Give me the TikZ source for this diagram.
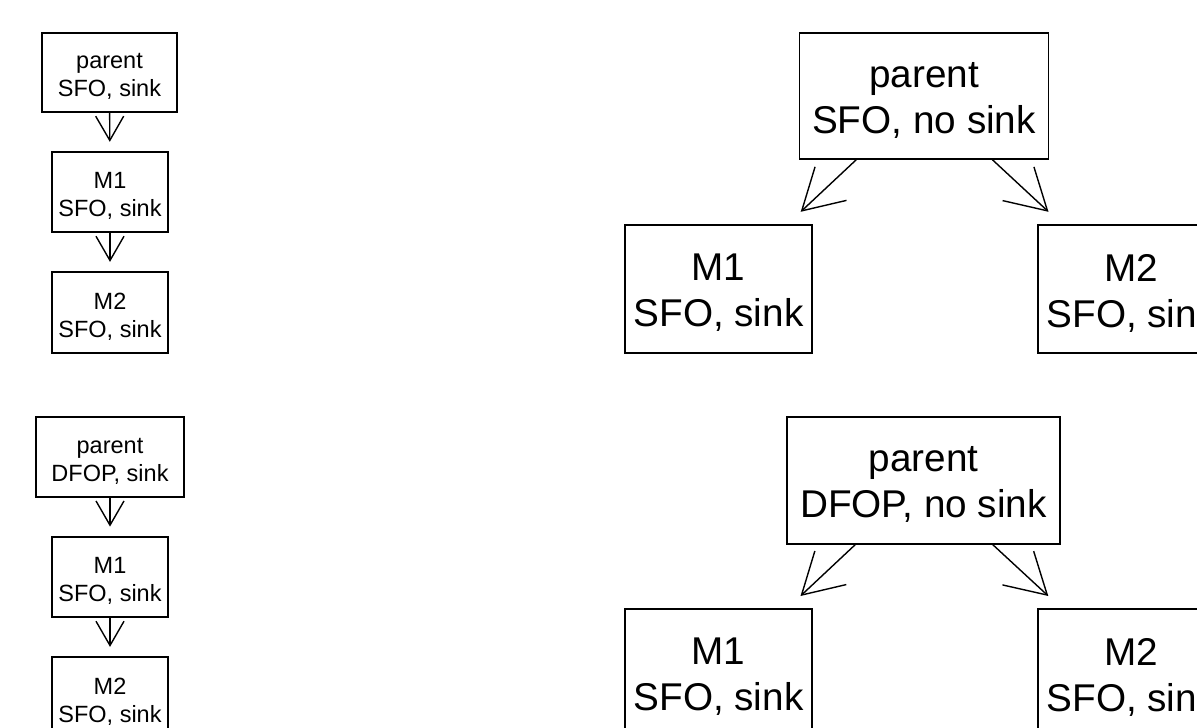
\documentclass[tikz,border=0pt]{standalone}
\usepackage{fontspec}
\setmainfont{Liberation Sans}
\usetikzlibrary{arrows.meta,calc}
\begin{document}
\begin{tikzpicture}[x=1pt,y=-1pt,
  boxline/.style={draw,line width=1.4pt,fill=white,inner sep=0pt},
  stext/.style={font=\fontsize{23.5}{28}\selectfont,align=center,inner sep=0pt,yshift=-4pt},
  btext/.style={font=\fontsize{38.7}{46}\selectfont,align=center,inner sep=0pt,yshift=-4pt},
  sarr/.style={line width=1.4pt,-{Straight Barb[angle=60:28pt]}},
  barr/.style={line width=1.4pt,-{Straight Barb[angle=60:46pt]}}]
\useasboundingbox (0,0) rectangle (1197,728);
\clip (0,0) rectangle (1197,728);
% top-left chain
\node[boxline,minimum width=135pt,minimum height=79pt,label={[stext]center:{parent\\SFO, sink}}] (a1) at (109.5,72.5) {};
\node[boxline,minimum width=116pt,minimum height=80pt,label={[stext]center:{M1\\SFO, sink}}] (a2) at (110,192) {};
\node[boxline,minimum width=116pt,minimum height=81pt,label={[stext]center:{M2\\SFO, sink}}] (a3) at (110,312.5) {};
\coordinate (ta12) at ($(a1.center)!0.58!(a2.center)$);
\coordinate (ta23) at ($(a2.center)!0.58!(a3.center)$);
\draw[sarr] (a1) -- (ta12);
\draw[sarr] (a2) -- (ta23);
% bottom-left chain
\node[boxline,minimum width=148pt,minimum height=80pt,label={[stext]center:{parent\\DFOP, sink}}] (b1) at (110,457) {};
\node[boxline,minimum width=116pt,minimum height=80pt,label={[stext]center:{M1\\SFO, sink}}] (b2) at (110,577) {};
\node[boxline,minimum width=116pt,minimum height=81pt,label={[stext]center:{M2\\SFO, sink}}] (b3) at (110,697.5) {};
\coordinate (tb12) at ($(b1.center)!0.58!(b2.center)$);
\coordinate (tb23) at ($(b2.center)!0.58!(b3.center)$);
\draw[sarr] (b1) -- (tb12);
\draw[sarr] (b2) -- (tb23);
% top-right tree
\node[boxline,minimum width=249pt,minimum height=126pt,label={[btext]center:{parent\\SFO, no sink}}] (c1) at (924,96) {};
\node[boxline,minimum width=187pt,minimum height=128pt,label={[btext]center:{M1\\SFO, sink}}] (c2) at (718.5,289) {};
\node[boxline,minimum width=187pt,minimum height=128pt,label={[btext]center:{M2\\SFO, sink}}] (c3) at (1131.5,289) {};
\coordinate (tc12) at ($(c1.center)!0.6!(c2.center)$);
\coordinate (tc13) at ($(c1.center)!0.6!(c3.center)$);
\draw[barr] (c1) -- (tc12);
\draw[barr] (c1) -- (tc13);
% bottom-right tree
\node[boxline,minimum width=273pt,minimum height=127pt,label={[btext]center:{parent\\DFOP, no sink}}] (d1) at (923.5,480.5) {};
\node[boxline,minimum width=187pt,minimum height=128pt,label={[btext]center:{M1\\SFO, sink}}] (d2) at (718.5,673) {};
\node[boxline,minimum width=187pt,minimum height=128pt,label={[btext]center:{M2\\SFO, sink}}] (d3) at (1131.5,673) {};
\coordinate (td12) at ($(d1.center)!0.6!(d2.center)$);
\coordinate (td13) at ($(d1.center)!0.6!(d3.center)$);
\draw[barr] (d1) -- (td12);
\draw[barr] (d1) -- (td13);
\end{tikzpicture}
\end{document}
